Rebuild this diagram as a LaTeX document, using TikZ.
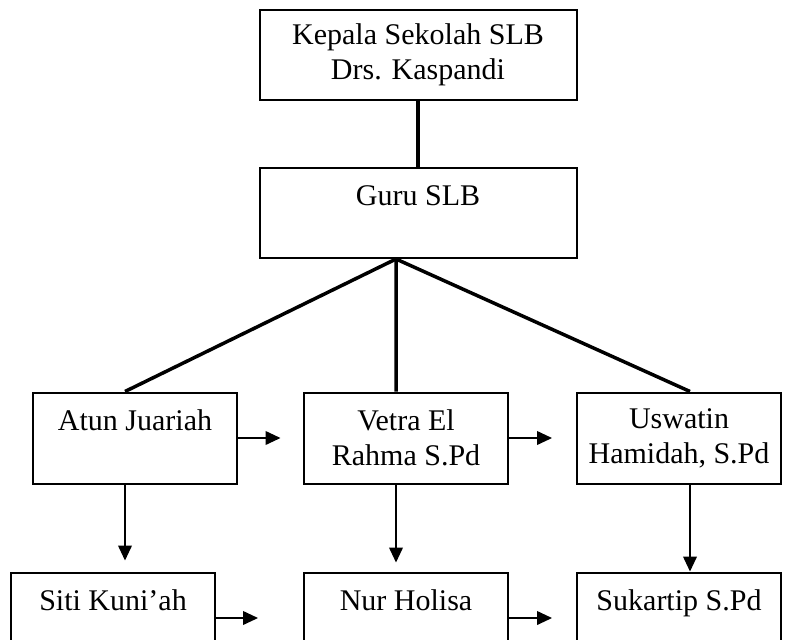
\documentclass[tikz,border=0pt]{standalone}
\usepackage{fontspec}
\setmainfont{Liberation Serif}
\usetikzlibrary{arrows.meta}

\begin{document}
\begin{tikzpicture}[
  x=0.4pt, y=-0.4pt,
  box/.style={rectangle, draw, line width=0.8pt, align=center, font=\fontsize{12}{14}\selectfont, inner sep=0pt},
  wide/.style={box, minimum width=126.8pt, minimum height=36pt},
  small/.style={box, minimum width=81.6pt, minimum height=36.4pt},
  link/.style={line width=1.4pt},
  arrow/.style={-{Triangle[length=6pt, width=5.5pt]}, line width=0.6pt},
]
\clip (0,0) rectangle (791,639);
\fill[white] (0,0) rectangle (791,639);

% === STRUKTUR ORGANISASI SLB ===
\node[wide] (kepala) at (418, 55) {Kepala Sekolah SLB\\Drs. Kaspandi};
\node[wide] (guru) at (418, 213) {Guru SLB\\\mbox{}};

\node[small] (atun) at (135, 438) {Atun Juariah\\\mbox{}};
\node[small] (vetra) at (406, 438) {Vetra El\\Rahma S.Pd};
\node[small] (uswatin) at (679, 438) {Uswatin\\Hamidah, S.Pd};

\node[small] (siti) at (113, 618) {Siti Kuni’ah\\\mbox{}};
\node[small] (nur) at (406, 618) {Nur Holisa\\\mbox{}};
\node[small] (sukartip) at (679, 618) {Sukartip S.Pd\\\mbox{}};

\coordinate (hub) at ([xshift=-8.8pt]guru.south);

\draw[link] (kepala) -- (guru);
\draw[link] (hub) -- ([xshift=-4pt]atun.north);
\draw[link] (hub) -- ([xshift=-4pt]vetra.north);
\draw[link] (hub) -- ([xshift=4.4pt]uswatin.north);

\draw[arrow, shorten >=9pt] (atun.east) -- (vetra.west);
\draw[arrow, shorten >=9.6pt] (vetra.east) -- (uswatin.west);
\draw[arrow, shorten >=18pt] (siti.east) -- (nur.west);
\draw[arrow, shorten >=9.6pt] (nur.east) -- (sukartip.west);

\draw[arrow, shorten >=4.4pt] ([xshift=-4pt]atun.south) -- ([xshift=-4pt]atun.south |- siti.north);
\draw[arrow, shorten >=3.6pt] ([xshift=-4pt]vetra.south) -- ([xshift=-4pt]vetra.south |- nur.north);
\draw[arrow] ([xshift=4.4pt]uswatin.south) -- ([xshift=4.4pt]uswatin.south |- sukartip.north);
\end{tikzpicture}
\end{document}
